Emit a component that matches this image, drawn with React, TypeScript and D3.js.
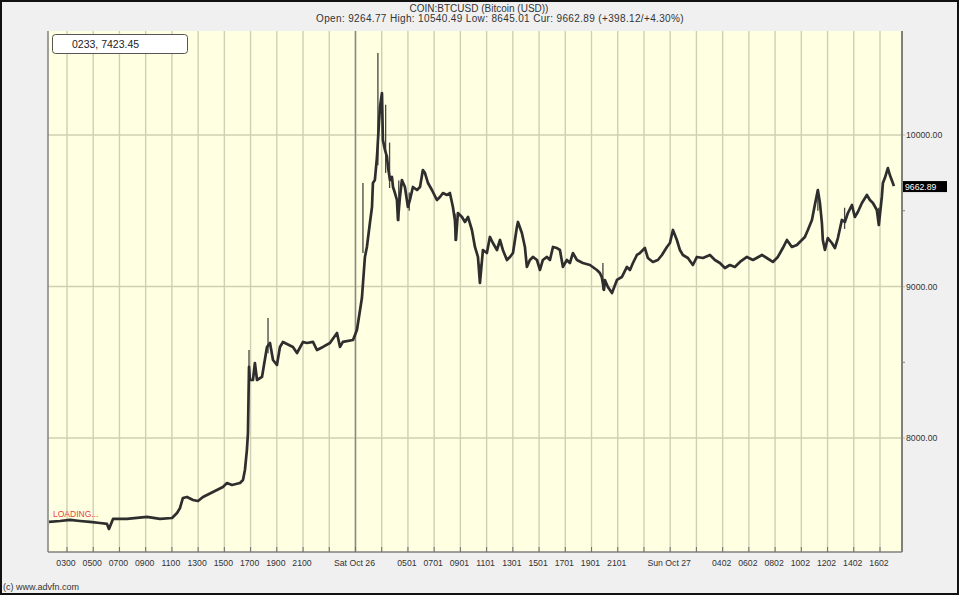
import React from "react";
import * as d3 from "d3";

// ---- Data ----
// Price path: [hours since 00:00 Oct 25, price USD]
const priceHours: number[] = [
  1.63, 2.47, 3.23, 3.99, 4.75, 5.52, 6.05, 6.2, 6.51, 7.57, 9.1, 10.09, 11.01, 11.39, 11.62, 11.84, 12.15, 12.61, 12.99, 13.37,
  14.13, 14.89, 15.2, 15.58, 16.19, 16.42, 16.57, 16.72, 16.8, 16.84, 16.88, 16.95, 17.18, 17.33, 17.49, 17.87, 18.25, 18.48, 18.71, 19.01,
  19.24, 19.47, 20.23, 20.54, 21.0, 21.3, 21.76, 22.06, 22.52, 23.05, 23.59, 23.82, 24.04, 24.81, 25.11, 25.49, 25.72, 25.87, 26.1, 26.26,
  26.33, 26.48, 26.64, 26.79, 26.87, 27.02, 27.09, 27.25, 27.4, 27.48, 27.63, 27.78, 27.86, 28.01, 28.16, 28.24, 28.39, 28.54, 28.77, 29.0,
  29.15, 29.38, 29.69, 29.92, 30.14, 30.3, 30.53, 30.83, 31.21, 31.44, 31.67, 31.97, 32.2, 32.43, 32.58, 32.66, 32.81, 33.12, 33.35, 33.58,
  33.88, 34.11, 34.34, 34.49, 34.72, 35.02, 35.25, 35.48, 35.79, 36.02, 36.24, 36.55, 36.78, 37.01, 37.31, 37.39, 37.69, 37.92, 38.07, 38.3,
  38.53, 38.84, 39.07, 39.29, 39.6, 39.83, 40.06, 40.36, 40.59, 40.82, 41.12, 41.35, 41.58, 41.89, 42.34, 42.88, 43.41, 43.64, 43.79, 43.95,
  44.02, 44.25, 44.56, 44.94, 45.17, 45.32, 45.7, 45.93, 46.16, 46.46, 46.69, 47.07, 47.3, 47.68, 48.06, 48.37, 48.75, 48.98, 49.21, 49.51,
  49.74, 49.97, 50.35, 50.73, 51.04, 51.5, 52.03, 52.41, 52.79, 53.17, 53.55, 53.93, 54.32, 54.85, 55.31, 56.0, 56.37, 56.83, 57.21, 57.59,
  57.9, 58.28, 58.66, 59.04, 59.27, 59.5, 59.81, 60.03, 60.26, 60.42, 60.57, 60.64, 60.8, 61.02, 61.33, 61.56, 61.79, 62.09, 62.32, 62.55,
  62.86, 63.08, 63.31, 63.62, 64.0, 64.23, 64.46, 64.76, 64.91, 65.14, 65.22, 65.37, 65.6, 65.75, 65.98, 66.06,
];
const priceValues: number[] = [
  7446, 7452, 7459, 7452, 7446, 7439, 7433, 7400, 7466, 7466, 7479, 7466, 7472, 7505, 7538, 7604, 7611, 7591, 7584, 7611,
  7644, 7677, 7703, 7690, 7703, 7723, 7789, 7921, 8033, 8251, 8469, 8383, 8383, 8495, 8383, 8403, 8601, 8627, 8515, 8482,
  8601, 8634, 8601, 8561, 8634, 8627, 8634, 8581, 8601, 8627, 8693, 8601, 8634, 8647, 8713, 8924, 9195, 9261, 9419, 9525,
  9683, 9703, 9855, 10079, 10185, 10277, 9967, 9901, 9855, 9789, 9703, 9723, 9657, 9617, 9571, 9439, 9591, 9703, 9657, 9525,
  9571, 9657, 9637, 9657, 9769, 9749, 9683, 9637, 9571, 9591, 9617, 9604, 9617, 9525, 9439, 9307, 9485, 9459, 9426, 9459,
  9373, 9261, 9195, 9023, 9241, 9221, 9327, 9287, 9241, 9307, 9241, 9175, 9195, 9221, 9393, 9426, 9353, 9261, 9129, 9175,
  9195, 9175, 9109, 9175, 9195, 9175, 9261, 9254, 9241, 9129, 9175, 9155, 9221, 9175, 9155, 9142, 9109, 9089, 9060, 8977,
  9043, 8997, 8957, 9043, 9056, 9063, 9129, 9109, 9155, 9208, 9221, 9254, 9188, 9162, 9175, 9208, 9261, 9287, 9373, 9307,
  9241, 9208, 9188, 9142, 9195, 9188, 9208, 9175, 9155, 9122, 9142, 9129, 9162, 9195, 9175, 9208, 9188, 9162, 9195, 9254,
  9307, 9261, 9274, 9307, 9327, 9373, 9439, 9538, 9637, 9551, 9419, 9307, 9241, 9320, 9287, 9254, 9320, 9439, 9426, 9485,
  9538, 9459, 9492, 9551, 9604, 9571, 9551, 9505, 9406, 9591, 9683, 9716, 9782, 9736, 9683, 9662.89,
];
// Short-lived spikes: [hour, low, high]
const spikeHours: number[] = [16.88, 18.33, 25.57, 26.71, 27.3, 27.6, 28.3, 29.1, 32.6, 34.5, 43.87, 60.26, 62.3, 64.9];
const spikeLows: number[] = [8400, 8560, 9221, 9800, 9750, 9650, 9430, 9500, 9300, 9020, 8977, 9500, 9380, 9400];
const spikeHighs: number[] = [8581, 8792, 9683, 10541, 10200, 9950, 9700, 9620, 9480, 9150, 9155, 9637, 9520, 9520];

// Axis ticks
const xTickHours: number[] = d3.range(3, 66, 2);
const xTickLabels: string[] = [
  "0300", "0500", "0700", "0900", "1100", "1300", "1500", "1700", "1900", "2100", "", "Sat Oct 26",
  "", "0501", "0701", "0901", "1101", "1301", "1501", "1701", "1901", "2101", "", "Sun Oct 27",
  "", "0402", "0602", "0802", "1002", "1202", "1402", "1602",
];
const yMajorTicks: number[] = [8000, 9000, 10000];
const yMinorTicks: number[] = [8500, 9500];
const cursorHour = 25;
const currentPrice = 9662.89;

const title = "COIN:BTCUSD (Bitcoin (USD))";
const subtitle = "Open: 9264.77 High: 10540.49 Low: 8645.01 Cur: 9662.89 (+398.12/+4.30%)";
const cursorText = "0233, 7423.45";

export default function App() {
  const W = 959, H = 595;
  const L = 48, R = 902, T = 31, B = 552;
  const x = d3.scaleLinear().domain([3, 65]).range([67, 880]);
  const y = d3.scaleLinear().domain([8000, 10000]).range([438, 135]);
  const pts: [number, number][] = priceHours.map((h, i) => [h, priceValues[i]]);
  const line = d3.line<[number, number]>().x((d) => x(d[0])).y((d) => y(d[1]));
  const font = "'Liberation Sans', Arial, sans-serif";
  const grid = "#cfcfb4";
  return (
    <svg width={W} height={H} style={{ position: "absolute", left: 0, top: 0, display: "block" }} fontFamily={font}>
      <rect x={0} y={0} width={W} height={H} fill="#f0f0f0" />
      <text x={479} y={12} textAnchor="middle" fontSize={10} fill="#333">{title}</text>
      <text x={500} y={22} textAnchor="middle" fontSize={10} letterSpacing={0.35} fill="#333">{subtitle}</text>
      <rect x={L} y={T} width={R - L} height={B - T} fill="#ffffe1" />
      {xTickHours.map((h, i) => (
        <line key={"g" + i} x1={x(h)} x2={x(h)} y1={T} y2={B} stroke={grid} strokeWidth={1.4} />
      ))}
      {yMajorTicks.map((v) => (
        <line key={"h" + v} x1={L} x2={R + 3} y1={y(v)} y2={y(v)} stroke={grid} strokeWidth={1.4} />
      ))}
      <line x1={x(cursorHour)} x2={x(cursorHour)} y1={T} y2={B} stroke="#8a8a80" strokeWidth={1.5} />
      {spikeHours.map((h, i) => (
        <line key={"s" + i} x1={x(h)} x2={x(h)} y1={y(spikeLows[i])} y2={y(spikeHighs[i])} stroke="#444" strokeWidth={1.3} />
      ))}
      <path d={line(pts) || ""} fill="none" stroke="#2e2e2e" strokeWidth={2.7} strokeLinejoin="round" />
      <text x={53} y={517} fontSize={8.5} fill="#e84040">LOADING...</text>
      <rect x={52.5} y={34.5} width={135} height={19} rx={3} fill="#fff" stroke="#555" strokeWidth={1} />
      <text x={72} y={48} fontSize={10.5} fill="#222">{cursorText}</text>
      {/* frame */}
      <line x1={L} x2={L} y1={T} y2={B} stroke="#808080" strokeWidth={1.5} />
      <line x1={L} x2={R} y1={B} y2={B} stroke="#808080" strokeWidth={1.5} />
      <line x1={R} x2={R} y1={T} y2={B} stroke="#808080" strokeWidth={2} />
      {xTickHours.map((h, i) => (
        <line key={"t" + i} x1={x(h)} x2={x(h)} y1={B - 5} y2={B} stroke="#707070" strokeWidth={1} />
      ))}
      {xTickHours.map((h, i) => (
        <text key={"l" + i} x={x(h) - 1} y={566} textAnchor="middle" fontSize={8.7} fill="#333">{xTickLabels[i]}</text>
      ))}
      {yMajorTicks.map((v) => (
        <text key={"yl" + v} x={906} y={y(v) + 3} fontSize={8.7} fill="#333">{v.toFixed(2)}</text>
      ))}
      {yMinorTicks.map((v) => (
        <line key={"ym" + v} x1={R} x2={R + 3} y1={y(v)} y2={y(v)} stroke="#808080" strokeWidth={1} />
      ))}
      <rect x={R + 1} y={y(currentPrice) - 5} width={44} height={11} fill="#000" />
      <text x={905} y={y(currentPrice) + 3.5} fontSize={8.7} fill="#fff">{currentPrice.toFixed(2)}</text>
      <text x={3} y={590} fontSize={9} fill="#333">(c) www.advfn.com</text>
      <rect x={1} y={1} width={W - 2} height={H - 2} fill="none" stroke="#111" strokeWidth={2} />
    </svg>
  );
}
